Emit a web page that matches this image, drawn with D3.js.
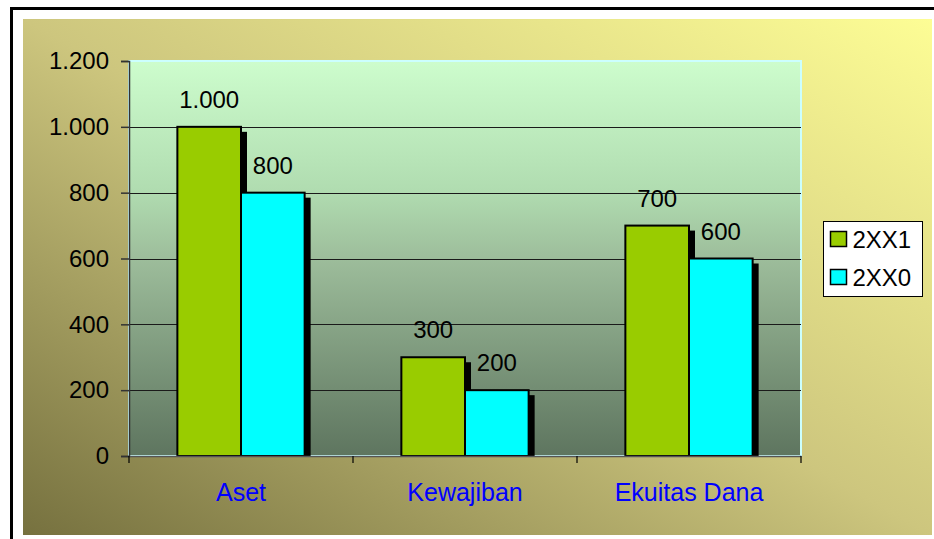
<!DOCTYPE html>
<html>
<head>
<meta charset="utf-8">
<script src="https://cdn.jsdelivr.net/npm/d3@7"></script>
<style>
  body { margin: 0; background: #fff; }
  svg { display: block; font-family: "Liberation Sans", Arial, sans-serif; }
</style>
</head>
<body>
<script>
// data
var categories = ['Aset', 'Kewajiban', 'Ekuitas Dana'];
var seriesNames = ['2XX1', '2XX0'];
var values2XX1 = [1000, 300, 700];
var values2XX0 = [800, 200, 600];
var yTicks = [0, 200, 400, 600, 800, 1000, 1200];
var seriesColors = ['#99cc00', '#00ffff'];

var w = 934, h = 539;
var plot = { left: 129, top: 61, right: 801, bottom: 456 };

var idLocale = d3.formatLocale({ decimal: ',', thousands: '.', grouping: [3], currency: ['Rp', ''] });
var fmt = idLocale.format(',d');

var rows = categories.map(function(c, i) {
  return { cat: c, vals: [values2XX1[i], values2XX0[i]] };
});

var svg = d3.select('body').append('svg')
  .attr('width', w)
  .attr('height', h);

var defs = svg.append('defs');

var bg = defs.append('linearGradient')
  .attr('id', 'bgGrad')
  .attr('x1', 0).attr('y1', 1).attr('x2', 1).attr('y2', 0);
bg.append('stop').attr('offset', 0).attr('stop-color', '#76713f');
bg.append('stop').attr('offset', 0.5).attr('stop-color', '#cdc67e');
bg.append('stop').attr('offset', 1).attr('stop-color', '#fdfd95');

var pg = defs.append('linearGradient')
  .attr('id', 'plotGrad')
  .attr('x1', 0).attr('y1', 0).attr('x2', 0).attr('y2', 1);
pg.append('stop').attr('offset', 0).attr('stop-color', '#cdfdcd');
pg.append('stop').attr('offset', 0.33).attr('stop-color', '#b0dcb0');
pg.append('stop').attr('offset', 0.5).attr('stop-color', '#9dbd9b');
pg.append('stop').attr('offset', 0.83).attr('stop-color', '#738d73');
pg.append('stop').attr('offset', 1).attr('stop-color', '#5e755f');

// outer frame
svg.append('rect')
  .attr('x', 11.5).attr('y', 8.5)
  .attr('width', w + 10).attr('height', h + 10)
  .attr('fill', '#fff')
  .attr('stroke', '#000')
  .attr('stroke-width', 3);

// chart area
svg.append('rect')
  .attr('x', 23).attr('y', 19)
  .attr('width', 909).attr('height', 516)
  .attr('fill', 'url(#bgGrad)');

// plot area
svg.append('rect')
  .attr('x', plot.left).attr('y', plot.top)
  .attr('width', plot.right - plot.left).attr('height', plot.bottom - plot.top)
  .attr('fill', 'url(#plotGrad)')
  .attr('stroke', '#ccffff')
  .attr('stroke-width', 2);

var y = d3.scaleLinear()
  .domain([0, 1200])
  .range([plot.bottom, plot.top]);

var x0 = d3.scaleBand()
  .domain(categories)
  .range([plot.left, plot.right]);

var x1 = d3.scaleBand()
  .domain(seriesNames)
  .range([0, x0.bandwidth()])
  .paddingInner(0)
  .paddingOuter(0.76);

// gridlines
svg.append('g')
  .selectAll('line')
  .data(yTicks.filter(function(d) { return d > 0 && d < 1200; }))
  .enter().append('line')
    .attr('x1', plot.left)
    .attr('x2', plot.right)
    .attr('y1', function(d) { return Math.round(y(d)) + 0.5; })
    .attr('y2', function(d) { return Math.round(y(d)) + 0.5; })
    .attr('stroke', '#1a1a1a')
    .attr('stroke-width', 1);

// bars with shadows
var groups = svg.append('g')
  .selectAll('g')
  .data(rows)
  .enter().append('g')
    .attr('transform', function(d) { return 'translate(' + x0(d.cat) + ',0)'; });

groups.each(function(d) {
  var g = d3.select(this);
  d.vals.forEach(function(v, i) {
    var bx = x1(seriesNames[i]);
    g.append('rect')
      .attr('x', bx + 6)
      .attr('y', y(v) + 5)
      .attr('width', x1.bandwidth())
      .attr('height', y(0) - y(v) - 5)
      .attr('fill', '#000');
    g.append('rect')
      .attr('x', bx)
      .attr('y', y(v))
      .attr('width', x1.bandwidth())
      .attr('height', y(0) - y(v))
      .attr('fill', seriesColors[i])
      .attr('stroke', '#000')
      .attr('stroke-width', 2);
    g.append('text')
      .attr('x', bx + x1.bandwidth() / 2)
      .attr('y', y(v) - 19)
      .attr('text-anchor', 'middle')
      .style('font-size', '24px')
      .attr('fill', '#000')
      .text(fmt(v));
  });
});

// y axis
var yAxis = svg.append('g')
  .attr('transform', 'translate(' + plot.left + ',0)')
  .call(d3.axisLeft(y).tickValues(yTicks).tickFormat(fmt).tickSize(8).tickPadding(12));
yAxis.select('.domain').attr('stroke', '#333').attr('stroke-width', 1.5);
yAxis.selectAll('.tick line').attr('stroke', '#333').attr('stroke-width', 1.5);
yAxis.selectAll('text')
  .style('font-size', '24px')
  .style('font-family', '"Liberation Sans", Arial, sans-serif')
  .attr('fill', '#000');

// x axis
var xAxis = svg.append('g')
  .attr('transform', 'translate(0,' + plot.bottom + ')')
  .call(d3.axisBottom(x0).tickSize(0).tickPadding(27));
xAxis.select('.domain').attr('stroke', '#555').attr('stroke-width', 1.5);
xAxis.selectAll('text')
  .style('font-size', '25px')
  .style('font-family', '"Liberation Sans", Arial, sans-serif')
  .attr('fill', '#0000ff');

// category separators
svg.append('g')
  .selectAll('line')
  .data(categories.map(function(c) { return x0(c); }).concat([plot.right]))
  .enter().append('line')
    .attr('x1', function(d) { return d; })
    .attr('x2', function(d) { return d; })
    .attr('y1', plot.bottom)
    .attr('y2', plot.bottom + 7)
    .attr('stroke', '#000')
    .attr('stroke-width', 1.2);

// legend
var legend = svg.append('g')
  .attr('transform', 'translate(823.5,221.5)');
legend.append('rect')
  .attr('width', 99).attr('height', 75)
  .attr('fill', '#fff')
  .attr('stroke', '#000')
  .attr('stroke-width', 1);
var items = legend.selectAll('.item')
  .data(seriesNames)
  .enter().append('g')
    .attr('class', 'item')
    .attr('transform', function(d, i) { return 'translate(7,' + (10 + i * 38) + ')'; });
items.append('rect')
  .attr('width', 16).attr('height', 15)
  .attr('fill', function(d, i) { return seriesColors[i]; })
  .attr('stroke', '#000')
  .attr('stroke-width', 1.5);
items.append('text')
  .attr('x', 22)
  .attr('y', 16)
  .style('font-size', '24px')
  .attr('fill', '#000')
  .text(function(d) { return d; });
</script>
</body>
</html>
